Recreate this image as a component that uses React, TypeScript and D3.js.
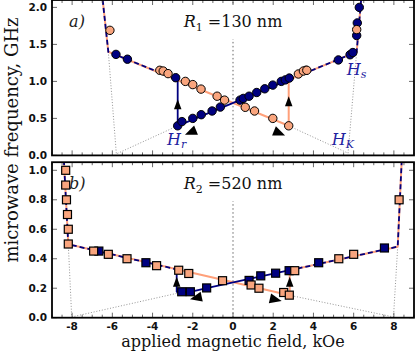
import React from 'react';
import * as d3 from 'd3';

// ---------- axis ticks ----------
const xMajorTicks = [-8, -6, -4, -2, 0, 2, 4, 6, 8];
const xTickLabels = ['-8', '-6', '-4', '-2', '0', '2', '4', '6', '8'];
const topYTicks = [0, 0.5, 1.0, 1.5, 2.0];
const topYTickLabels = ['0.0', '0.5', '1.0', '1.5', '2.0'];
const botYTicks = [0, 0.2, 0.4, 0.6, 0.8, 1.0];
const botYTickLabels = ['0.0', '0.2', '0.4', '0.6', '0.8', '1.0'];

// ---------- panel a) R1 = 130 nm ----------
const topBlueX = [-5.82, -5.25, -2.85, -2.75, -2.54, -2.0, -1.58, -1.04, -0.63, 0.35, 0.51, 0.80, 1.18, 1.58, 1.98, 2.40, 2.60, 2.80, 3.63, 5.24, 5.82, 5.96, 6.15, 6.18, 6.28];
const topBlueY = [1.365, 1.30, 1.05, 0.40, 0.457, 0.50, 0.55, 0.60, 0.653, 0.747, 0.77, 0.80, 0.85, 0.90, 0.95, 1.0, 1.02, 1.045, 1.15, 1.29, 1.36, 1.39, 1.62, 1.79, 2.0];
const topOrangeX = [-6.12, -3.64, -3.47, -3.23, -2.37, -2.0, -1.59, -0.79, -0.42, 0.61, 1.07, 1.98, 2.77, 3.25, 3.50, 3.67, 6.15];
const topOrangeY = [1.69, 1.15, 1.14, 1.105, 1.0, 0.957, 0.896, 0.80, 0.747, 0.65, 0.60, 0.50, 0.40, 1.10, 1.14, 1.15, 1.70];

// model curves
const topOrangeLineX = [-6.48, -6.2, 2.77, 2.77, 6.15, 6.37];
const topOrangeLineY = [2.1, 1.40, 0.40, 1.02, 1.40, 2.1];
const topBlueSolidX = [2.77, -2.75, -2.75];
const topBlueSolidY = [1.02, 0.40, 1.02];
const topSharedLeftX = [-6.48, -6.2, -2.75];
const topSharedLeftY = [2.1, 1.40, 1.02];
const topSharedRightX = [2.77, 6.15, 6.37];
const topSharedRightY = [1.02, 1.40, 2.1];
// dotted guides
const topGuideLX = [-6.2, -5.8, -2.75];
const topGuideLY = [1.40, 0.02, 0.40];
const topGuideRX = [6.15, 5.72, 2.77];
const topGuideRY = [1.40, 0.03, 0.40];
// arrows: tip and direction (data units)
const topArrowX = [-2.75, 2.77, -2.39, 2.59];
const topArrowY = [0.76, 0.80, 0.28, 0.27];
const topArrowDX = [0, 0, -1, 1];
const topArrowDY = [1, 1, -0.112, -0.112];
const topArrowBig = [false, false, true, true];

// ---------- panel b) R2 = 520 nm ----------
const botBlueX = [-6.67, -4.33, -2.55, -2.12, -1.31, 0.80, 1.38, 2.12, 2.79, 4.26, 7.53];
const botBlueY = [0.452, 0.373, 0.176, 0.176, 0.202, 0.253, 0.284, 0.302, 0.319, 0.373, 0.473];
const botOrangeX = [-8.32, -8.32, -8.28, -8.23, -8.19, -8.19, -6.93, -6.2, -5.27, -3.80, -2.70, -2.2, -0.52, 0.90, 1.29, 2.52, 2.80, 3.07, 5.26, 6.0, 8.26];
const botOrangeY = [1.0, 0.90, 0.80, 0.70, 0.60, 0.50, 0.452, 0.43, 0.40, 0.353, 0.322, 0.30, 0.251, 0.222, 0.20, 0.171, 0.153, 0.319, 0.40, 0.43, 0.80];

const botOrangeLineX = [-8.41, -8.19, 2.82, 2.82, 8.19, 8.39];
const botOrangeLineY = [1.07, 0.498, 0.152, 0.322, 0.482, 1.07];
const botBlueSolidX = [2.82, -1.31, -2.12, -2.8, -2.8];
const botBlueSolidY = [0.322, 0.20, 0.176, 0.176, 0.328];
const botSharedLeftX = [-8.41, -8.19, -2.8];
const botSharedLeftY = [1.07, 0.498, 0.328];
const botSharedRightX = [2.82, 8.19, 8.39];
const botSharedRightY = [0.322, 0.482, 1.07];
const botGuideLX = [-8.19, -8.02, -2.8];
const botGuideLY = [0.498, 0.005, 0.165];
const botGuideRX = [8.19, 7.98, 2.82];
const botGuideRY = [0.482, 0.005, 0.152];
const botArrowX = [-2.8, 2.82, -2.14, 2.42];
const botArrowY = [0.278, 0.278, 0.125, 0.113];
const botArrowDX = [0, 0, -1, 1];
const botArrowDY = [1, 1, -0.03, -0.0315];
const botArrowBig = [false, false, true, true];

// ---------- styling ----------
const BLUE = '#000080';
const ORANGE = '#FFA07A';
const ORANGE_FILL = '#F9A57E';
const LABEL_BLUE = '#2222a0';
const SERIF = "'DejaVu Serif', serif";
const SANS = "'DejaVu Sans', sans-serif";

const X0 = 52, X1 = 414;
const x = d3.scaleLinear().domain([-9, 9]).range([X0, X1]);

function headPoints(tx: number, ty: number, dx: number, dy: number, L: number, Wd: number) {
  const n = Math.hypot(dx, dy);
  const ux = dx / n, uy = dy / n;
  const bx = tx - ux * L, by = ty - uy * L;
  const px = -uy, py = ux;
  return `${tx},${ty} ${bx + px * Wd / 2},${by + py * Wd / 2} ${bx - px * Wd / 2},${by - py * Wd / 2}`;
}

type PanelProps = {
  id: string;
  y: d3.ScaleLinear<number, number>;
  yTicks: number[];
  yTickLabels: string[];
  showXLabels: boolean;
  blueX: number[]; blueY: number[];
  orangeX: number[]; orangeY: number[];
  marker: 'circle' | 'square';
  orangeLineX: number[]; orangeLineY: number[];
  blueSolidX: number[]; blueSolidY: number[];
  sharedLX: number[]; sharedLY: number[];
  sharedRX: number[]; sharedRY: number[];
  guideLX: number[]; guideLY: number[];
  guideRX: number[]; guideRY: number[];
  arrowX: number[]; arrowY: number[]; arrowDX: number[]; arrowDY: number[]; arrowBig: boolean[];
  children?: React.ReactNode;
  labelTag: string;
  rSub: string;
  rValue: string;
};

function Panel(p: PanelProps) {
  const { y } = p;
  const [yb, yt] = y.range();
  const line = (xs: number[], ys: number[]) =>
    d3.line<number>().x((_, i) => x(xs[i])).y((_, i) => y(ys[i]))(xs.map((_, i) => i)) || '';
  const minorTicks = d3.range(-9, 9.001, 0.5);
  const clipId = 'clip-' + p.id;
  const labelBase = yt + 27;
  return (
    <g>
      <defs>
        <clipPath id={clipId}>
          <rect x={X0} y={yt} width={X1 - X0} height={yb - yt} />
        </clipPath>
      </defs>
      <rect x={X0} y={yt} width={X1 - X0} height={yb - yt} fill="white" />
      <g clipPath={`url(#${clipId})`}>
        <line x1={x(0)} x2={x(0)} y1={yb} y2={yt} stroke="#666" strokeWidth={1} strokeDasharray="1.5,2.5" />
        <rect x={x(0) - 60} y={labelBase - 22} width={120} height={34} fill="white" />
        <path d={line(p.guideLX, p.guideLY)} fill="none" stroke="#888" strokeWidth={0.9} strokeDasharray="1,1.8" />
        <path d={line(p.guideRX, p.guideRY)} fill="none" stroke="#888" strokeWidth={0.9} strokeDasharray="1,1.8" />
        <path d={line(p.orangeLineX, p.orangeLineY)} fill="none" stroke={ORANGE} strokeWidth={2} strokeLinejoin="round" />
        <path d={line(p.blueSolidX, p.blueSolidY)} fill="none" stroke={BLUE} strokeWidth={1.8} strokeLinejoin="round" />
        <path d={line(p.sharedLX, p.sharedLY)} fill="none" stroke={BLUE} strokeWidth={1.8} strokeDasharray="5,3" />
        <path d={line(p.sharedRX, p.sharedRY)} fill="none" stroke={BLUE} strokeWidth={1.8} strokeDasharray="5,3" />
        {p.arrowX.map((ax, i) => {
          const tx = x(ax), ty = y(p.arrowY[i]);
          const dx = x(p.arrowDX[i]) - x(0);
          const dy = y(p.arrowDY[i]) - y(0);
          const big = p.arrowBig[i];
          return <polygon key={'a' + i} points={headPoints(tx, ty, dx, dy, big ? 12 : 10, big ? 10 : 7.5)} fill="black" />;
        })}
        {p.blueX.map((bx, i) =>
          p.marker === 'circle'
            ? <circle key={'b' + i} cx={x(bx)} cy={y(p.blueY[i])} r={4.2} fill={BLUE} stroke="black" strokeWidth={1} />
            : <rect key={'b' + i} x={x(bx) - 4} y={y(p.blueY[i]) - 4} width={8} height={8} fill={BLUE} stroke="black" strokeWidth={1.2} />
        )}
        {p.orangeX.map((ox, i) =>
          p.marker === 'circle'
            ? <circle key={'o' + i} cx={x(ox)} cy={y(p.orangeY[i])} r={4.2} fill={ORANGE_FILL} stroke="black" strokeWidth={1} />
            : <rect key={'o' + i} x={x(ox) - 4} y={y(p.orangeY[i]) - 4} width={8} height={8} fill={ORANGE_FILL} stroke="black" strokeWidth={1.2} />
        )}
      </g>
      {minorTicks.map((t, i) => {
        const major = Math.abs(t % 2) < 1e-6;
        const L = major ? 5 : 3;
        return (
          <g key={'xt' + i}>
            <line x1={x(t)} x2={x(t)} y1={yb} y2={yb - L} stroke="#444" strokeWidth={0.8} />
            <line x1={x(t)} x2={x(t)} y1={yt} y2={yt + L} stroke="#444" strokeWidth={0.8} />
          </g>
        );
      })}
      {p.yTicks.map((t, i) => (
        <g key={'yt' + i}>
          <line x1={X0} x2={X0 + 5} y1={y(t)} y2={y(t)} stroke="#444" strokeWidth={0.8} />
          <line x1={X1} x2={X1 - 5} y1={y(t)} y2={y(t)} stroke="#444" strokeWidth={0.8} />
          <text x={X0 - 5} y={y(t)} dy="0.35em" textAnchor="end" fontFamily={SANS} fontWeight="bold" fontSize={10.5} fill="#111">{p.yTickLabels[i]}</text>
        </g>
      ))}
      {p.showXLabels && xMajorTicks.map((t, i) => (
        <text key={'xl' + i} x={x(t)} y={yb + 12} textAnchor="middle" fontFamily={SANS} fontWeight="bold" fontSize={10.5} fill="#111">{xTickLabels[i]}</text>
      ))}
      <rect x={X0} y={yt} width={X1 - X0} height={yb - yt} fill="none" stroke="black" strokeWidth={1.8} />
      <text x={x(-8.15)} y={labelBase} fontFamily={SERIF} fontStyle="italic" fontSize={16} fill="#222">{p.labelTag}</text>
      <text x={x(0)} y={labelBase} textAnchor="middle" fontFamily={SERIF} fontSize={16} fill="#111">
        <tspan fontStyle="italic">R</tspan>
        <tspan fontSize={11} dy={4}>{p.rSub}</tspan>
        <tspan dy={-4}>{' =' + p.rValue + ' nm'}</tspan>
      </text>
      {p.children}
    </g>
  );
}

export default function App() {
  const yTop = d3.scaleLinear().domain([0, 2.1]).range([155.4, 0]);
  const yBot = d3.scaleLinear().domain([0, 1.055]).range([317.7, 162.2]);
  return (
    <svg width={416} height={353} style={{ position: 'absolute', left: 0, top: 0 }}>
      <rect width={416} height={353} fill="white" />
      <Panel id="a" y={yTop} yTicks={topYTicks} yTickLabels={topYTickLabels} showXLabels={false}
        blueX={topBlueX} blueY={topBlueY} orangeX={topOrangeX} orangeY={topOrangeY} marker="circle"
        orangeLineX={topOrangeLineX} orangeLineY={topOrangeLineY}
        blueSolidX={topBlueSolidX} blueSolidY={topBlueSolidY}
        sharedLX={topSharedLeftX} sharedLY={topSharedLeftY}
        sharedRX={topSharedRightX} sharedRY={topSharedRightY}
        guideLX={topGuideLX} guideLY={topGuideLY} guideRX={topGuideRX} guideRY={topGuideRY}
        arrowX={topArrowX} arrowY={topArrowY} arrowDX={topArrowDX} arrowDY={topArrowDY} arrowBig={topArrowBig}
        labelTag="a)" rSub="1" rValue="130">
        <text x={x(-3.28)} y={145} fontFamily={SERIF} fontStyle="italic" fontSize={16} fill={LABEL_BLUE}>
          H<tspan fontSize={11} dy={3}>r</tspan>
        </text>
        <text x={x(4.91)} y={145} fontFamily={SERIF} fontStyle="italic" fontSize={16} fill={LABEL_BLUE}>
          H<tspan fontSize={11} dy={3}>K</tspan>
        </text>
        <text x={x(5.66)} y={75} fontFamily={SERIF} fontStyle="italic" fontSize={16} fill={LABEL_BLUE}>
          H<tspan fontSize={11} dy={3}>s</tspan>
        </text>
      </Panel>
      <Panel id="b" y={yBot} yTicks={botYTicks} yTickLabels={botYTickLabels} showXLabels={true}
        blueX={botBlueX} blueY={botBlueY} orangeX={botOrangeX} orangeY={botOrangeY} marker="square"
        orangeLineX={botOrangeLineX} orangeLineY={botOrangeLineY}
        blueSolidX={botBlueSolidX} blueSolidY={botBlueSolidY}
        sharedLX={botSharedLeftX} sharedLY={botSharedLeftY}
        sharedRX={botSharedRightX} sharedRY={botSharedRightY}
        guideLX={botGuideLX} guideLY={botGuideLY} guideRX={botGuideRX} guideRY={botGuideRY}
        arrowX={botArrowX} arrowY={botArrowY} arrowDX={botArrowDX} arrowDY={botArrowDY} arrowBig={botArrowBig}
        labelTag="b)" rSub="2" rValue="520" />
      <text x={233} y={347} textAnchor="middle" fontFamily={SERIF} fontSize={16} fill="#111">applied magnetic field, kOe</text>
      <text transform="translate(18,140) rotate(-90)" textAnchor="middle" fontFamily={SERIF} fontSize={18} fill="#111">microwave frequency, GHz</text>
    </svg>
  );
}
